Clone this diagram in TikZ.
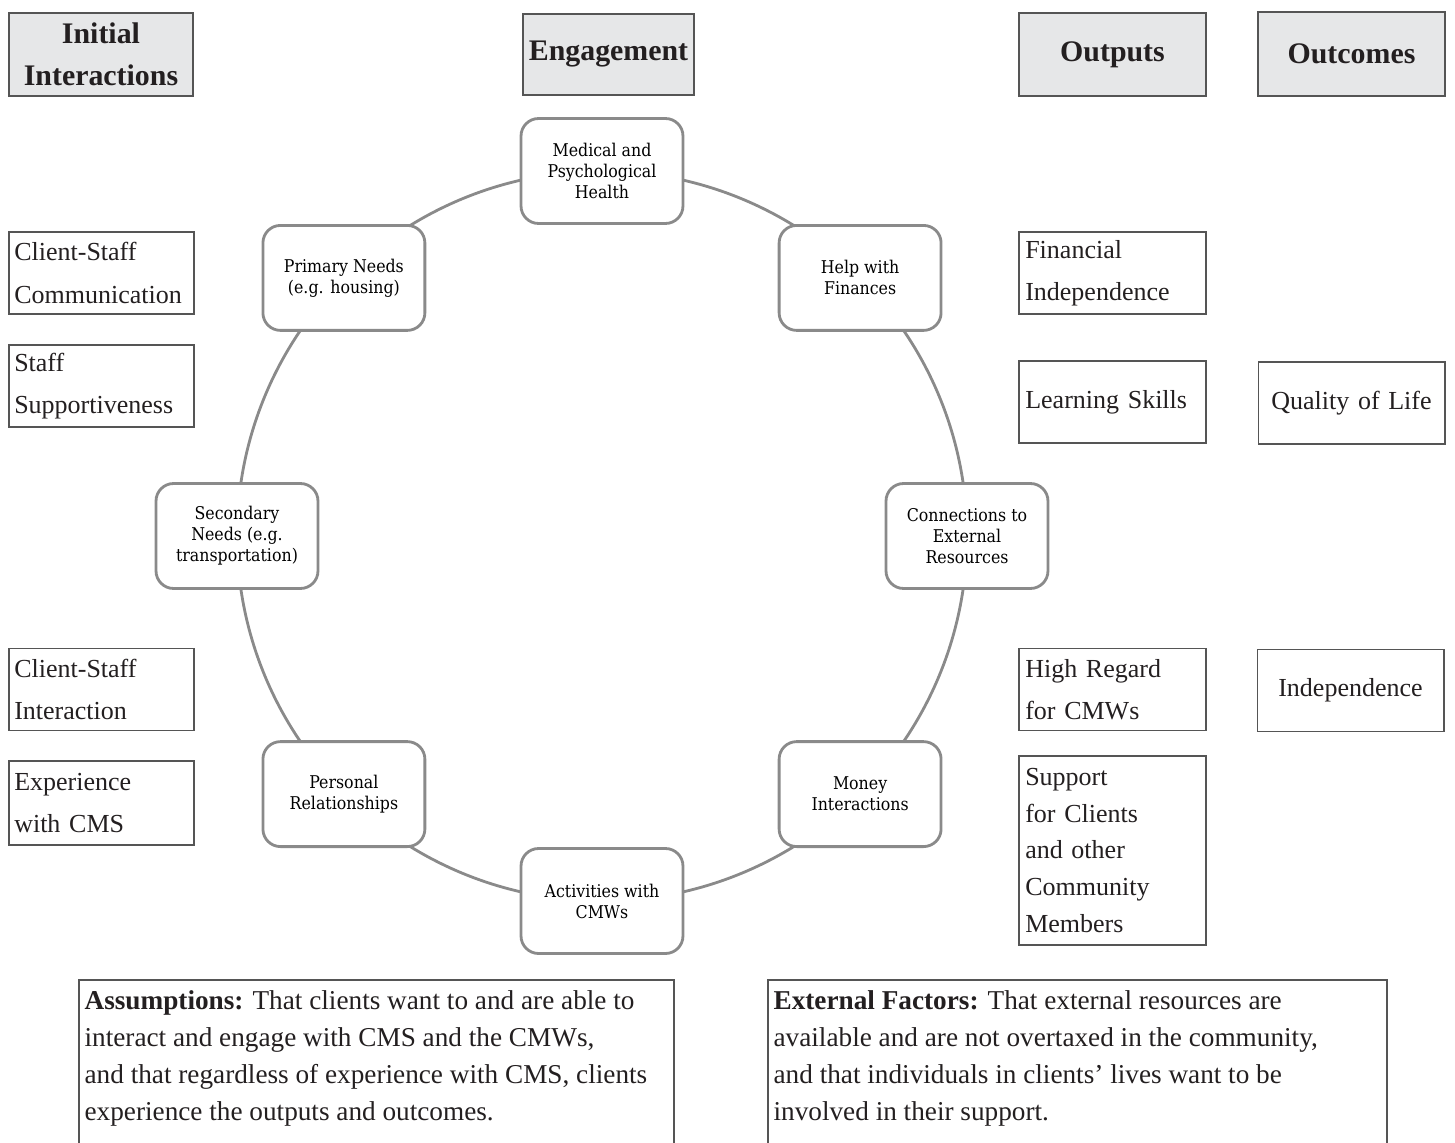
\documentclass[tikz,border=0pt]{standalone}
\usepackage{fontspec}
\setmainfont{Liberation Serif}
\newfontfamily\ringfont{DejaVu Serif Condensed}
\usetikzlibrary{positioning, backgrounds}
\definecolor{headgray}{RGB}{230, 231, 232}
\definecolor{ringgray}{RGB}{138, 138, 138}
\definecolor{boxline}{RGB}{85, 85, 85}
\definecolor{inkblack}{RGB}{35, 31, 32}

\tikzset{
  headbox/.style={draw=boxline, line width=0.9pt, fill=headgray, text=inkblack,
    minimum width=3.7cm, minimum height=1.66cm, align=center, inner sep=2pt,
    font=\fontsize{17}{24}\selectfont\bfseries},
  itembox/.style={draw=boxline, line width=0.6pt, text=inkblack,
    minimum width=3.7cm, minimum height=1.64cm, text width=3.49cm, align=left,
    inner xsep=3pt, font=\fontsize{14.8}{24}\selectfont},
  ringbox/.style={draw=ringgray, line width=1.6pt, rounded corners=10pt, fill=white,
    minimum width=3.24cm, minimum height=2.1cm, align=center, text=black,
    font=\ringfont\fontsize{10}{12}\selectfont},
  ring/.style={draw=ringgray, line width=1.6pt},
  notebox/.style={anchor=north west, text=inkblack, align=left, inner xsep=3pt,
    inner ysep=6pt, font=\fontsize{15.5}{21}\selectfont},
  noteline/.style={draw=boxline, line width=0.6pt},
}

\begin{document}
\begin{tikzpicture}[x=0.02cm, y=0.02cm]
  \useasboundingbox (0, 0) rectangle (1455, -1143);

  % column headings
  \node[headbox, minimum width=3.68cm] (hinit) at (101, -54.5) {Initial\\Interactions};
  \node[headbox, minimum width=3.42cm, minimum height=1.62cm] (heng) at (608.5, -54.5) {Engagement};
  \node[headbox, minimum width=3.74cm] (hout) at (1112.5, -54.5) {Outputs};
  \node[headbox, minimum width=3.74cm, minimum height=1.68cm] (hcome) at (1351.5, -54) {Outcomes};

  % initial interactions
  \node[itembox] (comm) at (101.5, -273) {Client-Staff\\Communication};
  \node[itembox] (supp) at (101.5, -386) {Staff\\Supportiveness};
  \node[itembox] (inter) at (101.5, -689.5) {Client-Staff\\Interaction};
  \node[itembox, minimum height=1.68cm] (exper) at (101.5, -803) {Experience\\with CMS};

  % outputs
  \node[itembox, minimum width=3.74cm] (finind) at (1112.5, -273) {Financial\\Independence};
  \node[itembox, minimum width=3.74cm] (learn) at (1112.5, -402) {Learning Skills};
  \node[itembox, minimum width=3.74cm] (regard) at (1112.5, -689.5) {High Regard\\for CMWs};
  \node[itembox, minimum width=3.74cm, minimum height=3.78cm,
    font=\fontsize{14.8}{21}\selectfont] (support) at (1112.5, -850.5)
    {Support\\for Clients\\and other\\Community\\Members};

  % outcomes
  \node[itembox, minimum width=3.74cm, align=center] (qual) at (1351.5, -403) {Quality of Life};
  \node[itembox, minimum width=3.74cm, align=center] (indep) at (1350.5, -690.5) {Independence};

  % engagement ring
  \node[ringbox] (med) at (602, -171) {Medical and\\Psychological\\Health};
  \node[ringbox] (fin) at (860.1, -277.9) {Help with\\Finances};
  \node[ringbox] (ext) at (967, -536) {Connections to\\External\\Resources};
  \node[ringbox] (money) at (860.1, -794.1) {Money\\Interactions};
  \node[ringbox] (act) at (602, -901) {Activities with\\CMWs};
  \node[ringbox] (pers) at (343.9, -794.1) {Personal\\Relationships};
  \node[ringbox] (sec) at (237, -536) {Secondary\\Needs (e.g.\\transportation)};
  \node[ringbox] (prim) at (343.9, -277.9) {Primary Needs\\(e.g. housing)};

  \begin{scope}[on background layer]
    \foreach \a/\s in {med/90, fin/45, ext/0, money/-45, act/-90, pers/-135, sec/180, prim/135}
      \draw[ring] (\a.center) arc[start angle=\s, delta angle=-45, radius=365];
  \end{scope}

  % assumptions and external factors
  \node[notebox] (assume) at (79, -980)
    {\textbf{Assumptions:} That clients want to and are able to\\
     interact and engage with CMS and the CMWs,\\
     and that regardless of experience with CMS, clients\\
     experience the outputs and outcomes.};
  \draw[noteline] (assume.north west) rectangle (674, -1150);
  \node[notebox] (factors) at (768, -980)
    {\textbf{External Factors:} That external resources are\\
     available and are not overtaxed in the community,\\
     and that individuals in clients' lives want to be\\
     involved in their support.};
  \draw[noteline] (factors.north west) rectangle (1387, -1150);
\end{tikzpicture}
\end{document}
